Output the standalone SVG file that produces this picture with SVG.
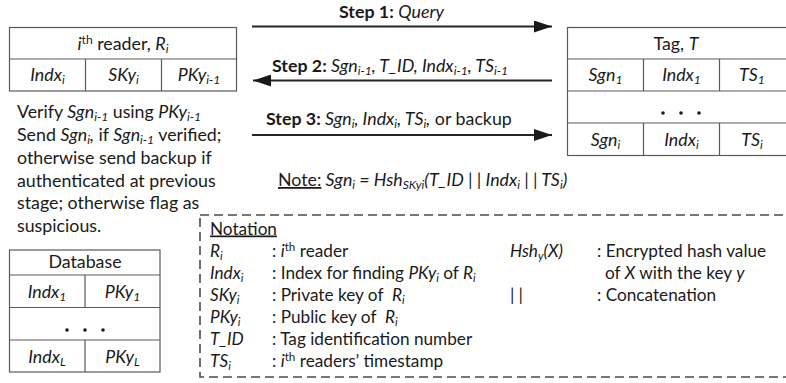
<svg xmlns="http://www.w3.org/2000/svg" width="786" height="383" viewBox="0 0 786 383">
  <style>
    text { font-family: Lato, "Open Sans", "Liberation Sans", sans-serif; fill: #1a1a1a; font-size: 17.8px; }
    .n { font-size: 17.2px; }
    .c { text-anchor: middle; }
    .i { font-style: italic; }
    .b { font-weight: bold; }
    .sub { font-size: 68%; baseline-shift: -3px; }
    .sup { font-size: 68%; baseline-shift: 6px; }
    .u { text-decoration: underline; }
    .box { fill: #ffffff; stroke: #5a5a5a; stroke-width: 1.2; }
    .grid { stroke: #5a5a5a; stroke-width: 1.2; fill: none; }
    .wire { stroke: #262626; stroke-width: 1.8; fill: none; }
    .dash { fill: none; stroke: #4a4a4a; stroke-width: 1.6; stroke-dasharray: 9 5; }
    .dot { fill: #1a1a1a; }
  </style>
  <defs>
    <marker id="head" viewBox="0 0 18 12" refX="18" refY="6" markerWidth="18" markerHeight="12" markerUnits="userSpaceOnUse" orient="auto">
      <path d="M0,0 L18,6 L0,12 Z" fill="#1a1a1a"/>
    </marker>
  </defs>

  <!-- Reader -->
  <g id="reader">
    <rect class="box" x="9.5" y="27.5" width="227" height="63.5"/>
    <path class="grid" d="M9.5,59 H236.5 M85.5,59 V91 M161.5,59 V91"/>
    <text class="c" x="123" y="50"><tspan class="i">i</tspan><tspan class="sup">th</tspan> reader, <tspan class="i">R</tspan><tspan class="sub i">i</tspan></text>
    <text class="c i" x="47.5" y="81">Indx<tspan class="sub">i</tspan></text>
    <text class="c i" x="123.5" y="81">SKy<tspan class="sub">i</tspan></text>
    <text class="c i" x="199" y="81">PKy<tspan class="sub">i-1</tspan></text>
  </g>

  <!-- Reader behaviour -->
  <g id="reader-rule">
    <text x="17" y="118">Verify <tspan class="i">Sgn</tspan><tspan class="sub i">i-1</tspan> using <tspan class="i">PKy</tspan><tspan class="sub i">i-1</tspan></text>
    <text x="17" y="141">Send <tspan class="i">Sgn</tspan><tspan class="sub i">i</tspan><tspan class="i">,</tspan> if <tspan class="i">Sgn</tspan><tspan class="sub i">i-1</tspan> verified;</text>
    <text x="17" y="164">otherwise send backup if</text>
    <text x="17" y="187">authenticated at previous</text>
    <text x="17" y="209">stage; otherwise flag as</text>
    <text x="17" y="232">suspicious.</text>
  </g>

  <!-- Tag -->
  <g id="tag">
    <rect class="box" x="567.5" y="27.5" width="220" height="128"/>
    <path class="grid" d="M567.5,59 H786 M567.5,91 H786 M567.5,123 H786 M643.5,59 V91 M719.5,59 V91 M643.5,123 V155.5 M719.5,123 V155.5"/>
    <text class="c" x="676" y="50">Tag, <tspan class="i">T</tspan></text>
    <text class="c i" x="605.5" y="81">Sgn<tspan class="sub">1</tspan></text>
    <text class="c i" x="681.5" y="81">Indx<tspan class="sub">1</tspan></text>
    <text class="c i" x="752" y="81">TS<tspan class="sub">1</tspan></text>
    <circle class="dot" cx="663" cy="113" r="1.8"/>
    <circle class="dot" cx="681" cy="113" r="1.8"/>
    <circle class="dot" cx="699" cy="113" r="1.8"/>
    <text class="c i" x="605.5" y="146">Sgn<tspan class="sub">i</tspan></text>
    <text class="c i" x="681.5" y="146">Indx<tspan class="sub">i</tspan></text>
    <text class="c i" x="752" y="146">TS<tspan class="sub">i</tspan></text>
  </g>

  <!-- Database -->
  <g id="database">
    <rect class="box" x="9.5" y="250" width="150.5" height="122"/>
    <path class="grid" d="M9.5,275 H160 M9.5,307.5 H160 M9.5,340 H160 M85,275 V307.5 M85,340 V372"/>
    <text class="c" x="85" y="268">Database</text>
    <text class="c i" x="47" y="298">Indx<tspan class="sub">1</tspan></text>
    <text class="c i" x="122.5" y="298">PKy<tspan class="sub">1</tspan></text>
    <circle class="dot" cx="67" cy="330" r="1.8"/>
    <circle class="dot" cx="85" cy="330" r="1.8"/>
    <circle class="dot" cx="103" cy="330" r="1.8"/>
    <text class="c i" x="47" y="363">Indx<tspan class="sub">L</tspan></text>
    <text class="c i" x="122.5" y="363">PKy<tspan class="sub">L</tspan></text>
  </g>

  <!-- Message exchange -->
  <g id="connectors">
    <line class="wire" x1="252" y1="26.5" x2="552" y2="26.5" marker-end="url(#head)"/>
    <line class="wire" x1="552" y1="80.5" x2="253" y2="80.5" marker-end="url(#head)"/>
    <line class="wire" x1="252" y1="135" x2="552" y2="135" marker-end="url(#head)"/>
  </g>

  <g id="step-labels">
    <text x="339" y="17.5"><tspan class="b">Step 1:</tspan> <tspan class="i">Query</tspan></text>
    <text x="272" y="72"><tspan class="b">Step 2:</tspan><tspan class="i"> Sgn</tspan><tspan class="sub i">i-1</tspan><tspan class="i">, T_ID, Indx</tspan><tspan class="sub i">i-1</tspan><tspan class="i">, TS</tspan><tspan class="sub i">i-1</tspan></text>
    <text x="266" y="125"><tspan class="b">Step 3:</tspan><tspan class="i"> Sgn</tspan><tspan class="sub i">i</tspan><tspan class="i">, Indx</tspan><tspan class="sub i">i</tspan><tspan class="i">, TS</tspan><tspan class="sub i">i</tspan><tspan class="i">,</tspan> or backup</text>
    <text x="278" y="186"><tspan class="u">Note:</tspan><tspan class="i"> Sgn</tspan><tspan class="sub i">i</tspan><tspan class="i"> = Hsh</tspan><tspan class="sub i">SKyi</tspan><tspan class="i">(T_ID | | Indx</tspan><tspan class="sub i">i</tspan><tspan class="i"> | | TS</tspan><tspan class="sub i">i</tspan><tspan class="i">)</tspan></text>
  </g>

  <!-- Notation legend -->
  <g id="notation">
    <rect class="dash" x="200" y="215" width="600" height="162"/>
    <text class="n u" x="210" y="234.5">Notation</text>
    <text class="n i" x="210" y="256.5">R<tspan class="sub">i</tspan></text>
    <text class="n" x="272" y="256.5">: <tspan class="i">i</tspan><tspan class="sup">th</tspan> reader</text>
    <text class="n i" x="210" y="278.5">Indx<tspan class="sub">i</tspan></text>
    <text class="n" x="272" y="278.5">: Index for finding <tspan class="i">PKy</tspan><tspan class="sub i">i</tspan> of <tspan class="i">R</tspan><tspan class="sub i">i</tspan></text>
    <text class="n i" x="210" y="300.5">SKy<tspan class="sub">i</tspan></text>
    <text class="n" x="272" y="300.5">: Private key of&#160; <tspan class="i">R</tspan><tspan class="sub i">i</tspan></text>
    <text class="n i" x="210" y="322.5">PKy<tspan class="sub">i</tspan></text>
    <text class="n" x="272" y="322.5">: Public key of&#160; <tspan class="i">R</tspan><tspan class="sub i">i</tspan></text>
    <text class="n i" x="210" y="344.5">T_ID</text>
    <text class="n" x="272" y="344.5">: Tag identification number</text>
    <text class="n i" x="210" y="366.5">TS<tspan class="sub">i</tspan></text>
    <text class="n" x="272" y="366.5">: <tspan class="i">i</tspan><tspan class="sup">th</tspan> readers’ timestamp</text>
    <text class="n i" x="510" y="256.5">Hsh<tspan class="sub">y</tspan>(X)</text>
    <text class="n" x="597" y="256.5">: Encrypted hash value</text>
    <text class="n" x="605" y="278.5">of <tspan class="i">X</tspan> with the key <tspan class="i">y</tspan></text>
    <text class="n i" x="510" y="300.5">| |</text>
    <text class="n" x="597" y="300.5">: Concatenation</text>
  </g>
</svg>
